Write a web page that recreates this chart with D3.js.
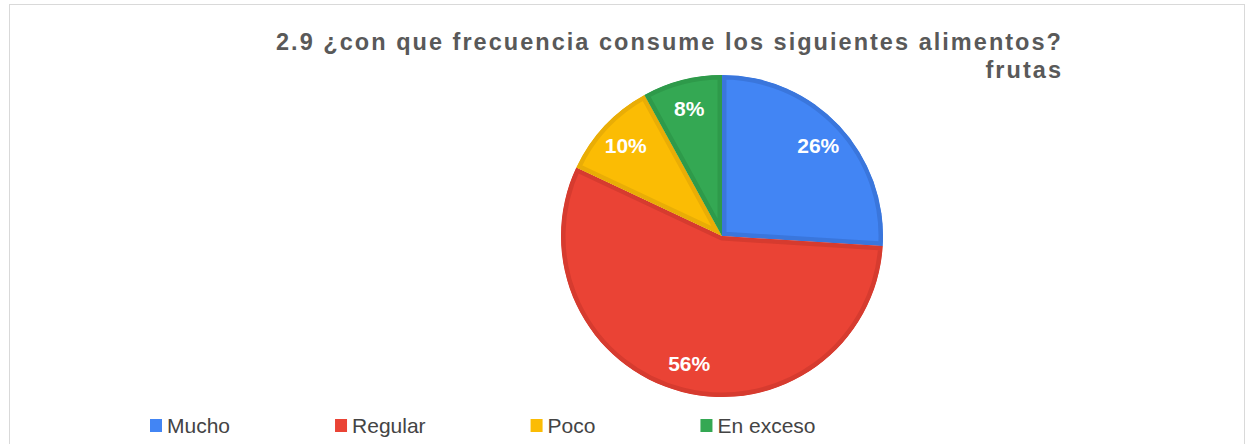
<!DOCTYPE html>
<html><head><meta charset="utf-8">
<script src="https://cdn.jsdelivr.net/npm/d3@7"></script>
<style>body{margin:0;background:#fff}svg{display:block}</style>
</head><body>
<svg id="c" width="1246" height="444"></svg>
<script>
const categories = ["Mucho", "Regular", "Poco", "En exceso"];
const values = [26, 56, 10, 8];
const labels = ["26%", "56%", "10%", "8%"];
const colors = ["#4285f4", "#ea4335", "#fbbc04", "#34a853"];
const edgeColors = ["#3a76dc", "#d63b2f", "#e9ad06", "#2e9a4a"];
const titleLines = ["2.9 ¿con que frecuencia consume los siguientes alimentos?", "frutas"];

const svg = d3.select("#c");
svg.append("rect").attr("x", 9.5).attr("y", 4.5).attr("width", 1235).attr("height", 460)
  .attr("fill", "#fff").attr("stroke", "#d9d9d9").attr("stroke-width", 1);

// Title
const font = "Liberation Sans, Arial, sans-serif";
const title = svg.append("g");
const tl = titleLines.map((t, i) => title.append("text").attr("x", 1063).attr("y", 50 + i * 28)
    .attr("text-anchor", "end")
    .attr("font-family", font)
    .attr("font-weight", "bold").attr("font-size", 23.5)
    .attr("fill", "#595959").text(t));
// fit letter spacing so first line spans the reference width
const w0 = tl[0].node().getComputedTextLength();
const ls = (787 - w0) / titleLines[0].length;
tl.forEach(t => t.attr("letter-spacing", ls + "px"));

// Pie
const cx = 722, cy = 236, R = 161;
const pie = d3.pie().sort(null).value(d => d)(values);
const arc = d3.arc().innerRadius(0).outerRadius(R);
const g = svg.append("g").attr("transform", `translate(${cx},${cy})`);
const defs = svg.append("defs");
pie.forEach((p, i) => {
  defs.append("clipPath").attr("id", "clip" + i).append("path").attr("d", arc(p));
});
g.selectAll("path.slice").data(pie).join("path")
  .attr("class", "slice")
  .attr("d", arc)
  .attr("fill", (d, i) => colors[i])
  .attr("stroke", (d, i) => edgeColors[i])
  .attr("stroke-width", 9)
  .attr("stroke-linejoin", "round")
  .attr("clip-path", (d, i) => `url(#clip${i})`);

const labelArc = d3.arc().innerRadius(R * 0.82).outerRadius(R * 0.82);
g.selectAll("text.lbl").data(pie).join("text")
  .attr("class", "lbl")
  .attr("transform", d => `translate(${labelArc.centroid(d)})`)
  .attr("text-anchor", "middle").attr("dy", "0.36em")
  .attr("font-family", font)
  .attr("font-weight", "bold").attr("font-size", 21)
  .attr("fill", "#fff")
  .text((d, i) => labels[i]);

// Legend: items laid out sequentially with constant gap
const leg = svg.append("g");
let lx = 150;
categories.forEach((c, i) => {
  const it = leg.append("g").attr("transform", `translate(${lx},0)`);
  it.append("rect").attr("x", 0).attr("y", 419).attr("width", 12).attr("height", 13)
    .attr("fill", colors[i]);
  const t = it.append("text").attr("x", 17).attr("y", 433)
    .attr("font-family", font)
    .attr("font-size", 21).attr("fill", "#444")
    .text(c);
  lx += 17 + t.node().getComputedTextLength() + 105;
});
</script>
</body></html>
